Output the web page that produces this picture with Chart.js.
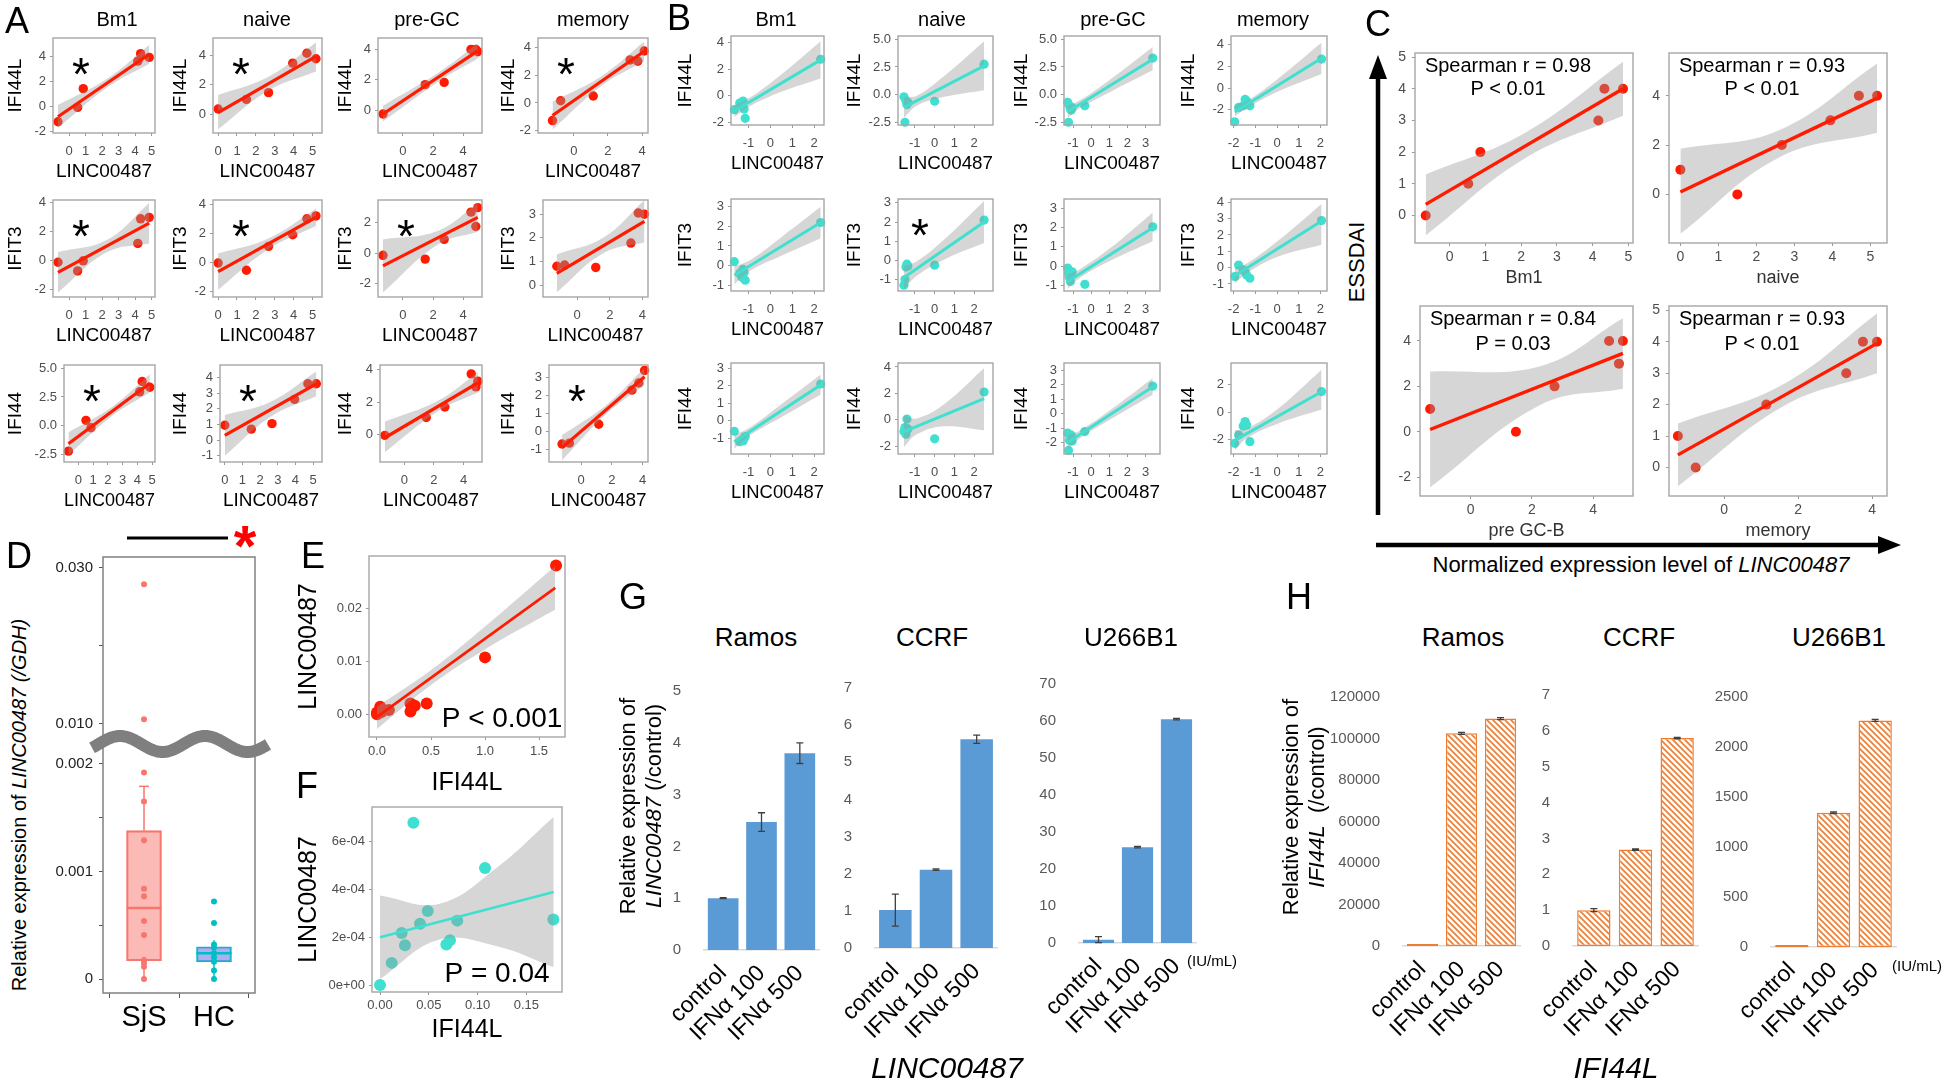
<!DOCTYPE html>
<html>
<head>
<meta charset="utf-8">
<script src="https://cdn.jsdelivr.net/npm/chart.js@4.4.1/dist/chart.umd.min.js"></script>
<style>
  html, body { margin: 0; padding: 0; background: #fff; }
  #page { position: relative; width: 1946px; height: 1083px; overflow: hidden; font-family: 'Liberation Sans', Arial, sans-serif; color: #000; }
  #page canvas { position: absolute; }
  .t { position: absolute; white-space: nowrap; line-height: 1; transform: translate(-50%, -50%); }
</style>
</head>
<body>
<div id="page"></div>
<script>
// ---------- data ----------
const subsets = ['Bm1', 'naive', 'pre-GC', 'memory'];
const genes = ['IFI44L', 'IFIT3', 'IFI44'];

// A: SjS patients, LINC00487 (x) per B-cell subset
const aLinc = [
  [-0.67, 0.52, 0.86, 4.16, 4.33, 4.85],
  [0.0, 1.5, 2.67, 3.95, 4.7, 5.18],
  [-1.32, 1.48, 2.74, 4.52, 4.84, 4.97],
  [-1.25, -0.77, 1.14, 3.3, 3.75, 4.13]
];
const aIFI44L = [
  [-1.25, -0.1, 1.4, 3.6, 4.2, 3.9],
  [0.34, 1.0, 1.46, 3.48, 4.16, 3.78],
  [-0.25, 1.68, 1.83, 4.0, 4.0, 3.85],
  [-1.26, 0.16, 0.5, 3.08, 2.99, 3.72]
];
const aIFIT3 = [
  [-0.1, -0.7, 0.0, 1.2, 2.9, 3.0],
  [-0.05, -0.55, 1.1, 1.9, 3.0, 3.2],
  [-0.15, -0.4, 0.9, 2.7, 1.75, 3.0],
  [0.8, 0.85, 0.75, 1.78, 3.05, 3.0]
];
const aIFI44 = [
  [-2.25, 0.45, -0.2, 2.95, 3.85, 3.35],
  [0.95, 0.7, 1.05, 2.6, 3.6, 3.6],
  [-0.05, 1.05, 1.7, 3.75, 2.95, 3.3],
  [-0.7, -0.65, 0.4, 2.3, 2.7, 3.4]
];
// fitted line: y at lowest and highest x of the subset
const aFitIFI44L = [[-0.85, 4.15], [0.1, 3.95], [-0.25, 3.9], [-0.9, 3.7]];
const aFitIFIT3 = [[-0.8, 2.6], [-0.65, 3.1], [-0.85, 2.35], [0.5, 2.7]];
const aFitIFI44 = [[-1.6, 3.7], [0.3, 3.6], [-0.2, 3.2], [-0.9, 3.05]];
// confidence band read at a few x: [x, lower, upper]
const aBandIFI44L = [
  [[-0.67, -1.75, 0.1], [2.3, 1.5, 2.2], [4.85, 3.4, 4.9]],
  [[0, -1.05, 1.3], [2.67, 1.6, 2.55], [5.18, 2.9, 4.9]],
  [[-1.32, -0.75, 0.3], [2.4, 1.9, 2.5], [4.97, 3.4, 4.4]],
  [[-1.25, -1.9, 0.1], [1.6, 1.2, 1.9], [4.13, 3.0, 4.4]]
];
const aBandIFIT3 = [
  [[-0.67, -2.2, 0.6], [2.3, 0.6, 1.45], [4.85, 1.2, 4.0]],
  [[0, -1.9, 0.6], [2.6, 0.85, 1.6], [5.18, 2.5, 3.7]],
  [[-1.32, -2.6, 0.9], [2.3, 0.55, 1.45], [4.97, 1.4, 3.3]],
  [[-1.25, -0.3, 1.3], [1.6, 1.35, 2.0], [4.13, 1.8, 3.6]]
];
const aBandIFI44 = [
  [[-0.67, -2.6, -0.6], [2.3, 0.85, 1.65], [4.85, 2.9, 4.5]],
  [[0, -1.0, 1.6], [2.6, 1.5, 2.45], [5.18, 2.8, 4.4]],
  [[-1.32, -1.1, 0.8], [2.3, 1.45, 2.1], [4.97, 2.6, 3.85]],
  [[-1.25, -1.6, -0.2], [1.6, 0.95, 1.45], [4.13, 2.6, 3.55]]
];
const aXRange = [[-0.97, 5.2], [-0.27, 5.5], [-1.65, 5.25], [-2.1, 4.35]];
const aXTicks = [[0, 1, 2, 3, 4, 5], [0, 1, 2, 3, 4, 5], [0, 2, 4], [0, 2, 4]];
const aYRange = [
  [[-2.15, 5.45], [-1.3, 5.2], [-1.5, 4.75], [-2.15, 4.65]],
  [[-2.5, 4.2], [-2.4, 4.3], [-2.9, 3.5], [-0.5, 3.6]],
  [[-3.2, 5.3], [-1.4, 4.8], [-1.7, 4.3], [-1.7, 3.7]]
];
const aYTicks = [
  [[-2, 0, 2, 4], [0, 2, 4], [0, 2, 4], [-2, 0, 2, 4]],
  [[-2, 0, 2, 4], [-2, 0, 2, 4], [-2, 0, 2], [0, 1, 2, 3]],
  [[-2.5, 0, 2.5, 5], [-1, 0, 1, 2, 3, 4], [0, 2, 4], [-1, 0, 1, 2, 3]]
];
const aStars = [[1, 1, 0, 1], [1, 1, 1, 0], [1, 1, 0, 1]];

// B: healthy controls
const bLinc = [
  [-1.65, -1.4, -1.3, -1.25, -1.2, -1.15, 2.3],
  [-1.55, -1.5, -1.45, -1.4, -1.35, 0.0, 2.5],
  [-1.3, -1.25, -1.2, -1.15, -1.1, -1.05, -0.35, 3.4],
  [-1.95, -1.77, -1.56, -1.47, -1.4, -1.25, 2.05]
];
const bIFI44L = [
  [-1.05, -0.55, -0.75, -0.4, -1.0, -1.7, 2.75],
  [-0.2, -2.5, -0.55, -0.9, -0.7, -0.6, 2.75],
  [-0.7, -2.5, -1.0, -1.3, -1.4, -1.2, -1.0, 3.3],
  [-3.1, -1.78, -1.63, -1.04, -1.2, -1.63, 2.67]
];
const bIFIT3 = [
  [0.2, -0.4, -0.6, -0.2, -0.35, -0.75, 2.2],
  [-1.3, -1.0, -0.35, -0.2, -0.3, -0.25, 2.1],
  [-0.1, -0.4, -0.6, -0.8, -0.5, -0.3, -0.95, 2.05],
  [-0.55, 0.16, -0.14, -0.25, -0.45, -0.65, 2.88]
];
const bIFI44 = [
  [-0.6, -1.2, -1.1, -1.15, -1.0, -0.9, 2.1],
  [-0.9, -0.6, -1.1, 0.05, -0.7, -1.45, 2.1],
  [-1.35, -2.55, -1.85, -1.7, -1.5, -1.9, -1.25, 1.9],
  [-2.27, -1.66, -1.0, -0.68, -0.93, -2.15, 1.51]
];
const bFitIFI44L = [[-1.15, 2.7], [-1.15, 2.6], [-1.55, 3.2], [-2.2, 2.75]];
const bFitIFIT3 = [[-0.5, 2.2], [-0.9, 2.0], [-0.8, 2.0], [-0.5, 2.85]];
const bFitIFI44 = [[-1.2, 2.05], [-0.9, 1.6], [-2.0, 1.85], [-2.05, 1.5]];
const bBandIFI44L = [
  [[-1.65, -1.6, -0.7], [-0.9, -0.75, -0.1], [0.5, 0.3, 1.6], [2.3, 1.3, 4.1]],
  [[-1.55, -2.1, -0.2], [-0.9, -1.0, -0.1], [0.5, -0.2, 1.7], [2.5, 0.4, 4.8]],
  [[-1.3, -2.1, -1.0], [-0.6, -1.2, -0.5], [1.0, 0.2, 1.3], [3.4, 2.2, 4.3]],
  [[-1.95, -2.6, -1.6], [-1.4, -1.85, -1.2], [0, -0.35, 0.8], [2.05, 1.3, 4.2]]
];
const bBandIFIT3 = [
  [[-1.65, -0.95, -0.05], [-0.9, -0.25, 0.3], [0.5, 0.5, 1.45], [2.3, 1.4, 3.0]],
  [[-1.55, -1.5, -0.3], [-0.9, -0.8, -0.05], [0.5, 0.05, 1.1], [2.5, 0.9, 3.1]],
  [[-1.3, -1.2, -0.45], [-0.6, -0.6, -0.15], [1.0, 0.25, 0.9], [3.4, 1.3, 2.8]],
  [[-1.95, -1.0, 0.0], [-1.4, -0.35, 0.25], [0, 0.65, 1.6], [2.05, 1.4, 3.9]]
];
const bBandIFI44 = [
  [[-1.65, -1.6, -0.8], [-0.9, -0.8, -0.35], [0.5, 0.2, 0.95], [2.3, 1.5, 2.65]],
  [[-1.55, -2.05, 0.3], [-0.9, -1.1, 0.1], [0.5, -0.5, 1.2], [2.5, -0.8, 3.9]],
  [[-1.3, -2.5, -1.5], [-0.6, -1.7, -1.15], [1.0, -0.45, 0.2], [3.4, 1.3, 2.45]],
  [[-1.95, -2.8, -1.3], [-1.4, -1.9, -1.2], [0, -0.85, 0.2], [2.05, 0.2, 3.1]]
];
const bXRange = [[-1.8, 2.45], [-1.85, 2.95], [-1.5, 3.8], [-2.12, 2.3]];
const bXTicks = [[-1, 0, 1, 2], [-1, 0, 1, 2], [-1, 0, 1, 2, 3], [-2, -1, 0, 1, 2]];
const bYRange = [
  [[-2.2, 4.5], [-2.75, 5.3], [-2.75, 5.3], [-3.4, 4.8]],
  [[-1.3, 3.4], [-1.6, 3.2], [-1.3, 3.5], [-1.43, 4.2]],
  [[-1.9, 3.3], [-2.6, 4.3], [-2.8, 3.5], [-3.05, 3.6]]
];
const bYTicks = [
  [[-2, 0, 2, 4], [-2.5, 0, 2.5, 5], [-2.5, 0, 2.5, 5], [-2, 0, 2, 4]],
  [[-1, 0, 1, 2, 3], [-1, 0, 1, 2, 3], [-1, 0, 1, 2, 3], [-1, 0, 1, 2, 3, 4]],
  [[-1, 0, 1, 2, 3], [-2, 0, 2, 4], [-2, -1, 0, 1, 2, 3], [-2, 0, 2]]
];
const bStars = [[0, 0, 0, 0], [0, 1, 0, 0], [0, 0, 0, 0]];

// C: ESSDAI vs LINC00487 (same patients as A)
const cTitles = ['Bm1', 'naive', 'pre GC-B', 'memory'];
const cEssdai = [
  [0, 1, 2, 3, 4, 4],
  [1, 0, 2, 3, 4, 4],
  [1, 0, 2, 4, 3, 4],
  [1, 0, 2, 3, 4, 4]
];
const cFit = [[0.35, 4.0], [0.1, 3.9], [0.1, 3.45], [0.4, 3.95]];
const cBand = [
  [[-0.67, -0.63, 1.29], [2.1, 1.8, 2.6], [4.85, 3.15, 4.85]],
  [[0, -1.6, 1.85], [2.6, 1.5, 2.6], [5.18, 2.5, 5.3]],
  [[-1.32, -2.45, 2.65], [2.3, 1.2, 2.9], [4.97, 1.9, 5.0]],
  [[-1.25, -0.6, 1.4], [1.6, 1.95, 2.65], [4.13, 3.0, 4.9]]
];
const cXRange = [[-0.97, 5.13], [-0.3, 5.44], [-1.65, 5.3], [-1.49, 4.4]];
const cXTicks = [[0, 1, 2, 3, 4, 5], [0, 1, 2, 3, 4, 5], [0, 2, 4], [0, 2, 4]];
const cYRange = [[-0.87, 5.13], [-1.97, 5.73], [-2.83, 5.54], [-0.91, 5.14]];
const cYTicks = [[0, 1, 2, 3, 4, 5], [0, 2, 4], [-2, 0, 2, 4], [0, 1, 2, 3, 4, 5]];
const cRho = ['Spearman r = 0.98', 'Spearman r = 0.93', 'Spearman r = 0.84', 'Spearman r = 0.93'];
const cP = ['P < 0.01', 'P < 0.01', 'P = 0.03', 'P < 0.01'];

// D: LINC00487 / GDH, SjS vs HC
const dGroups = ['SjS', 'HC'];
const dSjS = [0, 0.000115, 0.00015, 0.000177, 0.00041, 0.00054, 0.00077, 0.00084, 0.00129, 0.00165, 0.00192, 0.0106, 0.0279];
const dHC = [0, 0.00008, 0.00016, 0.0002, 0.00024, 0.00029, 0.00032, 0.00052, 0.00072];
// [whisker low, q1, median, q3, whisker high]
const dSjSBox = [0, 0.00017, 0.00066, 0.00138, 0.00201];
const dHCBox = [0, 0.00016, 0.00024, 0.0003, 0.00036];
const dYTicks = [0, 0.0005, 0.001, 0.0015, 0.002, 0.010, 0.020, 0.030];
const dYLabels = ['0', '', '0.001', '', '0.002', '0.010', '', '0.030'];

// E / F
const eIFI44L = [1.657, 1.0, 0.46, 0.35, 0.31, 0.31, 0.11, 0.03, 0.015, 0.0, 0.04, 0.0];
const eLinc = [0.028, 0.0107, 0.002, 0.0016, 0.002, 0.0005, 0.0008, 0.0014, 0.0002, 0.0003, 0.0004, 0.0];
const eFit = [[0, -0.0005], [1.65, 0.0238]];
const eBand = [[0, -0.0028, 0.0014], [0.5, 0.0055, 0.0083], [1.0, 0.0122, 0.0165], [1.65, 0.0197, 0.0279]];
const eXTicks = [0, 0.5, 1, 1.5], eXLabels = ['0.0', '0.5', '1.0', '1.5'];
const eYTicks = [0, 0.01, 0.02], eYLabels = ['0.00', '0.01', '0.02'];

const fIFI44L = [0.0342, 0.1076, 0.1776, 0.0489, 0.041, 0.0792, 0.0222, 0.0717, 0.068, 0.0256, 0.012, 0.0];
const fLinc = [6.8e-4, 4.9e-4, 2.75e-4, 3.1e-4, 2.57e-4, 2.7e-4, 2.18e-4, 1.88e-4, 1.7e-4, 1.67e-4, 0.93e-4, 0];
const fFit = [[0, 2.0e-4], [0.178, 3.9e-4]];
const fBand = [[0, 0.25e-4, 3.75e-4], [0.06, 1.9e-4, 3.4e-4], [0.12, 1.63e-4, 4.93e-4], [0.178, 0.75e-4, 7.05e-4]];
const fXTicks = [0, 0.05, 0.1, 0.15], fXLabels = ['0.00', '0.05', '0.10', '0.15'];
const fYTicks = [0, 2e-4, 4e-4, 6e-4], fYLabels = ['0e+00', '2e-04', '4e-04', '6e-04'];

// G / H: cell lines treated with IFN-alpha
const cellLines = ['Ramos', 'CCRF', 'U266B1'];
const treatments = ['control', 'IFNα 100', 'IFNα 500'];
const gVals = [[1.0, 2.47, 3.8], [1.02, 2.11, 5.62], [0.9, 25.9, 60.5]];
const gErrs = [[0.01, 0.18, 0.2], [0.43, 0.02, 0.11], [0.8, 0.2, 0.2]];
const gMax = [5, 7, 70], gStep = [1, 1, 10];
const hVals = [[1, 102500, 109600], [1.0, 2.69, 5.8], [1, 1342, 2266]];
const hErrs = [[0, 500, 500], [0.04, 0.02, 0.02], [0, 8, 10]];
const hMax = [120000, 7, 2500], hStep = [20000, 1, 500];

// ---------- helpers ----------
const RED = '#FF1A00', TURQ = '#40E0D0', BAND = 'rgba(153,153,153,0.4)';
const SANS = "'Liberation Sans', Arial, sans-serif";
const NARROW = "'Liberation Sans Narrow', 'Arial Narrow', 'Liberation Sans', sans-serif";
const page = document.getElementById('page');
Chart.defaults.font.family = SANS;

function addCanvas(l, t, w, h) {
  const c = document.createElement('canvas');
  c.width = Math.round(w); c.height = Math.round(h);
  c.style.left = Math.round(l) + 'px'; c.style.top = Math.round(t) + 'px';
  page.appendChild(c);
  return c;
}
function label(html, cx, cy, size, extra) {
  const d = document.createElement('div');
  d.className = 't';
  d.innerHTML = html;
  d.style.left = cx + 'px'; d.style.top = cy + 'px'; d.style.fontSize = size + 'px';
  if (extra) Object.assign(d.style, extra);
  page.appendChild(d);
}
function fmtTicks(ticks) {
  const dec = ticks.some(v => !Number.isInteger(v)) ? 1 : 0;
  return ticks.map(v => v.toFixed(dec));
}

const framePlugin = {
  id: 'frame',
  afterDatasetsDraw(chart, args, opts) {
    if (!opts.color) return;
    const a = chart.chartArea, ctx = chart.ctx;
    ctx.save();
    ctx.strokeStyle = opts.color; ctx.lineWidth = opts.width || 1.4;
    ctx.strokeRect(a.left, a.top, a.right - a.left, a.bottom - a.top);
    ctx.restore();
  }
};
const notesPlugin = {
  id: 'notes',
  afterDatasetsDraw(chart, args, opts) {
    if (!opts.items) return;
    const a = chart.chartArea, ctx = chart.ctx;
    ctx.save();
    opts.items.forEach(n => {
      ctx.font = (n.weight || 'normal') + ' ' + n.size + 'px ' + SANS;
      ctx.fillStyle = n.color || '#000';
      ctx.textAlign = 'center'; ctx.textBaseline = 'alphabetic';
      ctx.fillText(n.t, a.left + n.dx, a.top + n.dy + (n.star ? 0.58 : 0.36) * n.size);
    });
    ctx.restore();
  }
};
const errPlugin = {
  id: 'errbars',
  afterDatasetsDraw(chart, args, opts) {
    if (!opts.errs) return;
    const ctx = chart.ctx, ys = chart.scales.y;
    const vals = chart.data.datasets[0].data;
    ctx.save();
    ctx.strokeStyle = '#404040'; ctx.lineWidth = 1.3;
    chart.getDatasetMeta(0).data.forEach((bar, i) => {
      const e = opts.errs[i];
      if (!e) return;
      const y0 = ys.getPixelForValue(vals[i] - e), y1 = ys.getPixelForValue(vals[i] + e);
      ctx.beginPath();
      ctx.moveTo(bar.x, y0); ctx.lineTo(bar.x, y1);
      ctx.moveTo(bar.x - 3.5, y0); ctx.lineTo(bar.x + 3.5, y0);
      ctx.moveTo(bar.x - 3.5, y1); ctx.lineTo(bar.x + 3.5, y1);
      ctx.stroke();
    });
    ctx.restore();
  }
};
Chart.register(framePlugin, notesPlugin, errPlugin);

function scatterPanel(o) {
  const ts = o.titleSize, ks = o.tickSize, tl = 3;
  const [bl, bt, br, bb] = o.box;
  const cl = Math.round(o.yTitle ? o.yTitleX - 0.6 * ts : bl - 34);
  const cb = Math.round(o.xTitleY + 0.6 * ts);
  const padT = 10, padR = 12;
  const padL = bl - cl, padB = cb - bb;
  const cv = addCanvas(cl, bt - padT, br - cl + padR, cb - bt + padT);
  const xl = o.xLabels || fmtTicks(o.xt), yl = o.yLabels || fmtTicks(o.yt);
  const tickFont = { family: NARROW, size: ks };
  new Chart(cv, {
    type: 'scatter',
    data: {
      datasets: [
        { data: o.pts, backgroundColor: o.color, pointRadius: o.r, pointHoverRadius: o.r, pointBorderWidth: 0, order: 3, clip: false },
        { type: 'line', data: o.band.map(b => ({ x: b[0], y: b[1] })), borderWidth: 0, pointRadius: 0, tension: 0.4, fill: false, order: 2 },
        { type: 'line', data: o.band.map(b => ({ x: b[0], y: b[2] })), borderWidth: 0, pointRadius: 0, tension: 0.4, fill: '-1', backgroundColor: BAND, order: 2 },
        { type: 'line', data: o.fit, borderColor: o.color, borderWidth: o.lw, pointRadius: 0, fill: false, order: 1 }
      ]
    },
    options: {
      responsive: false, animation: false, events: [],
      layout: { padding: { top: padT, right: padR, left: 0, bottom: 0 } },
      plugins: {
        legend: { display: false }, tooltip: { enabled: false },
        frame: { color: '#A6A6A6', width: 1.4 },
        notes: { items: o.notes || [] }
      },
      scales: {
        x: {
          type: 'linear', min: o.xr[0], max: o.xr[1],
          afterBuildTicks: s => { s.ticks = o.xt.map(v => ({ value: v })); },
          afterFit: s => { s.height = padB; s.paddingLeft = 0; s.paddingRight = 0; },
          ticks: { autoSkip: false, maxRotation: 0, minRotation: 0, font: tickFont, color: '#4D4D4D',
                   padding: o.xTickOff - tl - 0.6 * ks, callback: (v, i) => xl[i] },
          grid: { display: true, drawOnChartArea: false, drawTicks: true, tickLength: tl, color: '#9A9A9A' },
          border: { display: false },
          title: { display: !!o.xTitle, text: o.xTitle, color: o.titleColor || '#000', font: { family: SANS, size: ts }, padding: 0 }
        },
        y: {
          type: 'linear', min: o.yr[0], max: o.yr[1],
          afterBuildTicks: s => { s.ticks = o.yt.map(v => ({ value: v })); },
          afterFit: s => { s.width = padL; s.paddingTop = 0; s.paddingBottom = 0; },
          ticks: { autoSkip: false, font: tickFont, color: '#4D4D4D', padding: o.yTickGap || 4, callback: (v, i) => yl[i] },
          grid: { display: true, drawOnChartArea: false, drawTicks: true, tickLength: tl, color: '#9A9A9A' },
          border: { display: false },
          title: { display: !!o.yTitle, text: o.yTitle, color: '#000', font: { family: SANS, size: ts }, padding: 0 }
        }
      }
    }
  });
}
const pairs = (xs, ys) => xs.map((x, i) => ({ x, y: ys[i] }));
const fitLine = (xs, f) => [{ x: Math.min(...xs), y: f[0] }, { x: Math.max(...xs), y: f[1] }];

// ---------- panel A ----------
const aRowT = [38, 200, 365], aRowB = [133, 297, 462];
const aBoxL = [[53, 213, 378, 538], [53, 213, 378, 543], [64, 220, 380, 549]];
const aBoxR = [155, 322, 482, 648];
const aYTitleX = [15, 180, 345, 508];
const aTitleX = [117, 267, 427, 593];
const aGene = [aIFI44L, aIFIT3, aIFI44], aFits = [aFitIFI44L, aFitIFIT3, aFitIFI44], aBands = [aBandIFI44L, aBandIFIT3, aBandIFI44];
for (let g = 0; g < 3; g++) {
  for (let s = 0; s < 4; s++) {
    scatterPanel({
      box: [aBoxL[g][s], aRowT[g], aBoxR[s], aRowB[g]],
      xr: aXRange[s], xt: aXTicks[s], yr: aYRange[g][s], yt: aYTicks[g][s],
      pts: pairs(aLinc[s], aGene[g][s]), fit: fitLine(aLinc[s], aFits[g][s]), band: aBands[g][s],
      color: RED, r: 4.7, lw: 3.2,
      xTitle: 'LINC00487', yTitle: genes[g], yTitleX: aYTitleX[s], xTitleY: aRowB[g] + 39,
      titleSize: 19, tickSize: 13, xTickOff: 18.5, yTickGap: 4,
      notes: aStars[g][s] ? [{ t: '*', dx: 28, dy: 25, size: 46, star: true }] : []
    });
  }
}
subsets.forEach((s, i) => label(s, aTitleX[i], 19, 20));

// ---------- panel B ----------
const bRowT = [36, 199, 363], bRowB = [125, 291, 454];
const bBoxL = [731, 898, 1064, 1231], bBoxR = [824, 993, 1160, 1327];
const bYTitleX = [685, 854, 1021, 1188];
const bTitleX = [776, 942, 1113, 1273];
const bGene = [bIFI44L, bIFIT3, bIFI44], bFits = [bFitIFI44L, bFitIFIT3, bFitIFI44], bBands = [bBandIFI44L, bBandIFIT3, bBandIFI44];
for (let g = 0; g < 3; g++) {
  for (let s = 0; s < 4; s++) {
    scatterPanel({
      box: [bBoxL[s], bRowT[g], bBoxR[s], bRowB[g]],
      xr: bXRange[s], xt: bXTicks[s], yr: bYRange[g][s], yt: bYTicks[g][s],
      pts: pairs(bLinc[s], bGene[g][s]), fit: fitLine(bLinc[s], bFits[g][s]), band: bBands[g][s],
      color: TURQ, r: 4.6, lw: 3,
      xTitle: 'LINC00487', yTitle: genes[g], yTitleX: bYTitleX[s], xTitleY: bRowB[g] + 39,
      titleSize: 19, tickSize: 13, xTickOff: 18.5, yTickGap: 4,
      notes: bStars[g][s] ? [{ t: '*', dx: 22, dy: 25, size: 46, star: true }] : []
    });
  }
}
subsets.forEach((s, i) => label(s, bTitleX[i], 19, 20));

// ---------- panel C ----------
const cBox = [[1415, 53, 1633, 243], [1669, 53, 1887, 243], [1420, 306, 1633, 496], [1669, 306, 1887, 496]];
for (let s = 0; s < 4; s++) {
  const bx = cBox[s];
  scatterPanel({
    box: bx, xr: cXRange[s], xt: cXTicks[s], yr: cYRange[s], yt: cYTicks[s],
    pts: pairs(aLinc[s], cEssdai[s]), fit: fitLine(aLinc[s], cFit[s]), band: cBand[s],
    color: RED, r: 5, lw: 3.4,
    xTitle: cTitles[s], titleColor: '#333', xTitleY: bx[3] + 35,
    titleSize: 18, tickSize: 14, xTickOff: 14, yTickGap: 6,
    notes: [{ t: cRho[s], dx: 93, dy: 12, size: 20 }, { t: cP[s], dx: 93, dy: s < 2 ? 35 : 37, size: 20 }]
  });
}
label('ESSDAI', 1357, 262, 22, { transform: 'translate(-50%,-50%) rotate(-90deg)' });
label('Normalized expression level of <i>LINC00487</i>', 1641, 565, 22);

// ---------- panel E ----------
scatterPanel({
  box: [369, 556, 565, 737], xr: [-0.074, 1.74], xt: eXTicks, xLabels: eXLabels,
  yr: [-0.0043, 0.0298], yt: eYTicks, yLabels: eYLabels,
  pts: pairs(eIFI44L, eLinc), fit: eFit.map(p => ({ x: p[0], y: p[1] })), band: eBand,
  color: RED, r: 6, lw: 2.6,
  xTitle: 'IFI44L', yTitle: 'LINC00487', yTitleX: 309, xTitleY: 783,
  titleSize: 25, tickSize: 13, xTickOff: 14, yTickGap: 4,
  notes: [{ t: 'P < 0.001', dx: 133, dy: 161, size: 28 }]
});
// ---------- panel F ----------
scatterPanel({
  box: [372, 807, 562, 992], xr: [-0.0082, 0.1865], xt: fXTicks, xLabels: fXLabels,
  yr: [-0.29e-4, 7.46e-4], yt: fYTicks, yLabels: fYLabels,
  pts: pairs(fIFI44L, fLinc), fit: fFit.map(p => ({ x: p[0], y: p[1] })), band: fBand,
  color: TURQ, r: 6, lw: 2.6,
  xTitle: 'IFI44L', yTitle: 'LINC00487', yTitleX: 309, xTitleY: 1030,
  titleSize: 25, tickSize: 13, xTickOff: 13, yTickGap: 4,
  notes: [{ t: 'P = 0.04', dx: 125, dy: 165, size: 28 }]
});

// ---------- panel D (broken y axis) ----------
const dBrk = v => v <= 0.002 ? v * 1000 : 2.372 + (v - 0.01) / 0.02 * 1.451;
(function () {
  const box = [103, 557, 255, 993];
  const cl = 30, padT = 20, padR = 35, padB = 52;
  const padL = box[0] - cl;
  const cv = addCanvas(cl, box[1] - padT, box[2] - cl + padR, box[3] - box[1] + padT + padB);
  const seg = (x0, y0, x1, y1, c, w) => ({ type: 'line', data: [{ x: x0, y: dBrk(y0) }, { x: x1, y: dBrk(y1) }], borderColor: c, borderWidth: w, pointRadius: 0, fill: false, order: 2 });
  const boxDs = (x, b, fill, edge) => ({ type: 'bar', data: [{ x, y: [dBrk(b[1]), dBrk(b[3])] }], backgroundColor: fill, borderColor: edge, borderWidth: 1.5, borderSkipped: false, barThickness: 35, grouped: false, order: 3 });
  const ptsDs = (x, vals, c) => ({ type: 'scatter', data: vals.map(v => ({ x, y: dBrk(v) })), backgroundColor: c, pointRadius: 3, pointBorderWidth: 0, order: 1 });
  const wavePlugin = {
    id: 'wave',
    afterDraw(chart) {
      const ctx = chart.ctx, a = chart.chartArea, ys = chart.scales.y;
      const yc = (ys.getPixelForValue(dBrk(0.002)) + ys.getPixelForValue(dBrk(0.010))) / 2;
      const x0 = a.left - 11, x1 = a.right + 13;
      ctx.save();
      ctx.strokeStyle = '#7F7F7F'; ctx.lineWidth = 12;
      ctx.beginPath();
      for (let x = x0; x <= x1; x += 1) {
        const y = yc - 8 * Math.cos(2 * Math.PI * (x - a.left - 17) / 85);
        if (x === x0) ctx.moveTo(x, y); else ctx.lineTo(x, y);
      }
      ctx.stroke();
      ctx.restore();
    }
  };
  new Chart(cv, {
    type: 'scatter',
    data: {
      datasets: [
        boxDs(1, dSjSBox, 'rgba(248,118,109,0.5)', '#F8766D'),
        boxDs(2, dHCBox, 'rgba(140,140,235,0.7)', '#00BFC4'),
        seg(1, dSjSBox[0], 1, dSjSBox[1], '#F8766D', 1.5),
        seg(1, dSjSBox[3], 1, dSjSBox[4], '#F8766D', 1.5),
        seg(0.93, dSjSBox[4], 1.07, dSjSBox[4], '#F8766D', 1.5),
        seg(0.75, dSjSBox[2], 1.25, dSjSBox[2], '#F8766D', 2.5),
        seg(2, dHCBox[0], 2, dHCBox[1], '#00BFC4', 1.5),
        seg(2, dHCBox[3], 2, dHCBox[4], '#00BFC4', 1.5),
        seg(1.75, dHCBox[2], 2.25, dHCBox[2], '#00BFC4', 2.5),
        ptsDs(1, dSjS, '#F8766D'),
        ptsDs(2, dHC, '#00BFC4')
      ]
    },
    options: {
      responsive: false, animation: false, events: [],
      layout: { padding: { top: padT, right: padR, left: 0, bottom: 0 } },
      plugins: { legend: { display: false }, tooltip: { enabled: false }, frame: { color: '#808080', width: 1.5 } },
      scales: {
        x: {
          type: 'linear', min: 0.414, max: 2.586, offset: false,
          afterBuildTicks: s => { s.ticks = [1, 2].map(v => ({ value: v })); },
          afterFit: s => { s.height = padB; s.paddingLeft = 0; s.paddingRight = 0; },
          ticks: { autoSkip: false, maxRotation: 0, font: { family: SANS, size: 29 }, color: '#000', padding: 2.6, callback: (v, i) => dGroups[i] },
          grid: { display: true, drawOnChartArea: false, drawTicks: true, tickLength: 5, color: '#555' },
          border: { display: false }
        },
        y: {
          type: 'linear', min: -0.13, max: 3.925,
          afterBuildTicks: s => { s.ticks = dYTicks.map(v => ({ value: dBrk(v) })); },
          afterFit: s => { s.width = padL; s.paddingTop = 0; s.paddingBottom = 0; },
          ticks: { autoSkip: false, font: { family: SANS, size: 15 }, color: '#222', padding: 6, callback: (v, i) => dYLabels[i] },
          grid: { display: true, drawOnChartArea: false, drawTicks: true, tickLength: 4, color: '#555' },
          border: { display: false }
        }
      }
    },
    plugins: [wavePlugin]
  });
})();
label('Relative expression of <i>LINC00487 (/GDH)</i>', 19, 805, 20, { transform: 'translate(-50%,-50%) rotate(-90deg)' });
label('*', 245, 546, 58, { color: '#FF0000', fontWeight: 'bold' });

// ---------- panels G / H ----------
function hatch() {
  const c = document.createElement('canvas');
  c.width = 6; c.height = 6;
  const x = c.getContext('2d');
  x.fillStyle = '#fff'; x.fillRect(0, 0, 6, 6);
  x.strokeStyle = '#ED7D31'; x.lineWidth = 1.6;
  x.beginPath();
  x.moveTo(-1, -1); x.lineTo(7, 7);
  x.moveTo(-1, 5); x.lineTo(1, 7);
  x.moveTo(5, -1); x.lineTo(7, 1);
  x.stroke();
  return x.createPattern(c, 'repeat');
}
function barPanel(o) {
  const [l, t, r, b] = o.area;
  const padL = 95, padT = 12, padR = 16, padB = 100;
  const cv = addCanvas(l - padL, t - padT, r - l + padL + padR, b - t + padT + padB);
  new Chart(cv, {
    type: 'bar',
    data: {
      labels: treatments,
      datasets: [{ data: o.vals, backgroundColor: o.fill, borderColor: o.edge || o.fill, borderWidth: o.bw || 0,
                   borderSkipped: false, barPercentage: 0.8, categoryPercentage: 1, minBarLength: o.minLen || 0 }]
    },
    options: {
      responsive: false, animation: false, events: [],
      layout: { padding: { top: padT, right: padR, left: 0, bottom: 0 } },
      plugins: { legend: { display: false }, tooltip: { enabled: false }, errbars: { errs: o.errs } },
      scales: {
        x: {
          offset: true, grid: { display: false }, border: { display: true, color: '#D9D9D9', width: 1.5 },
          afterFit: s => { s.height = padB; s.paddingLeft = 0; s.paddingRight = 0; },
          ticks: { autoSkip: false, minRotation: 45, maxRotation: 45, font: { family: SANS, size: 23 }, color: '#000', padding: 2 }
        },
        y: {
          min: 0, max: o.max, grid: { display: false }, border: { display: false },
          afterFit: s => { s.width = padL; s.paddingTop = 0; s.paddingBottom = 0; },
          ticks: { stepSize: o.step, font: { family: NARROW, size: 15 }, color: '#595959', padding: 15, callback: v => String(v) }
        }
      }
    }
  });
}
const gArea = [[704, 691, 819, 950], [875, 688, 997, 948], [1079, 684, 1196, 943]];
const hArea = [[1403, 697, 1520, 946], [1573, 695, 1698, 946], [1771, 697, 1896, 947]];
const gTitleX = [756, 932, 1131], hTitleX = [1463, 1639, 1839];
const hatchFill = hatch();
for (let i = 0; i < 3; i++) {
  barPanel({ area: gArea[i], vals: gVals[i], errs: gErrs[i], max: gMax[i], step: gStep[i], fill: '#5B9BD5' });
  barPanel({ area: hArea[i], vals: hVals[i], errs: hErrs[i], max: hMax[i], step: hStep[i], fill: hatchFill, edge: '#ED7D31', bw: 1.5, minLen: 2 });
  label(cellLines[i], gTitleX[i], 637, 26);
  label(cellLines[i], hTitleX[i], 637, 26);
}
const rot = { transform: 'translate(-50%,-50%) rotate(-90deg)', lineHeight: '26px', textAlign: 'center' };
label('Relative expression of<br><i>LINC00487</i> (/control)', 641, 806, 22, rot);
label('Relative expression of<br><i>IFI44L</i>&nbsp;&nbsp;(/control)', 1304, 807, 22, rot);
label('(IU/mL)', 1212, 960, 15);
label('(IU/mL)', 1917, 965, 15);
label('<i>LINC00487</i>', 947, 1068, 30);
label('<i>IFI44L</i>', 1616, 1068, 30);

// ---------- panel letters & arrows ----------
[['A', 17, 21], ['B', 679, 18], ['C', 1378, 24], ['D', 19, 556], ['E', 313, 556], ['F', 307, 786], ['G', 633, 597], ['H', 1299, 597]]
  .forEach(p => label(p[0], p[1], p[2], 36));
const svgNS = 'http://www.w3.org/2000/svg';
const svg = document.createElementNS(svgNS, 'svg');
svg.setAttribute('width', 1946); svg.setAttribute('height', 1083);
svg.style.position = 'absolute'; svg.style.left = '0'; svg.style.top = '0';
svg.innerHTML =
  '<line x1="1378" y1="515" x2="1378" y2="74" stroke="#000" stroke-width="4.5"/>' +
  '<polygon points="1378,55 1369,79 1387,79" fill="#000"/>' +
  '<line x1="1376" y1="545" x2="1882" y2="545" stroke="#000" stroke-width="4.5"/>' +
  '<polygon points="1901,545 1878,536 1878,554" fill="#000"/>' +
  '<line x1="127" y1="538" x2="228" y2="538" stroke="#000" stroke-width="3"/>';
page.insertBefore(svg, page.firstChild);
</script>
</body>
</html>
